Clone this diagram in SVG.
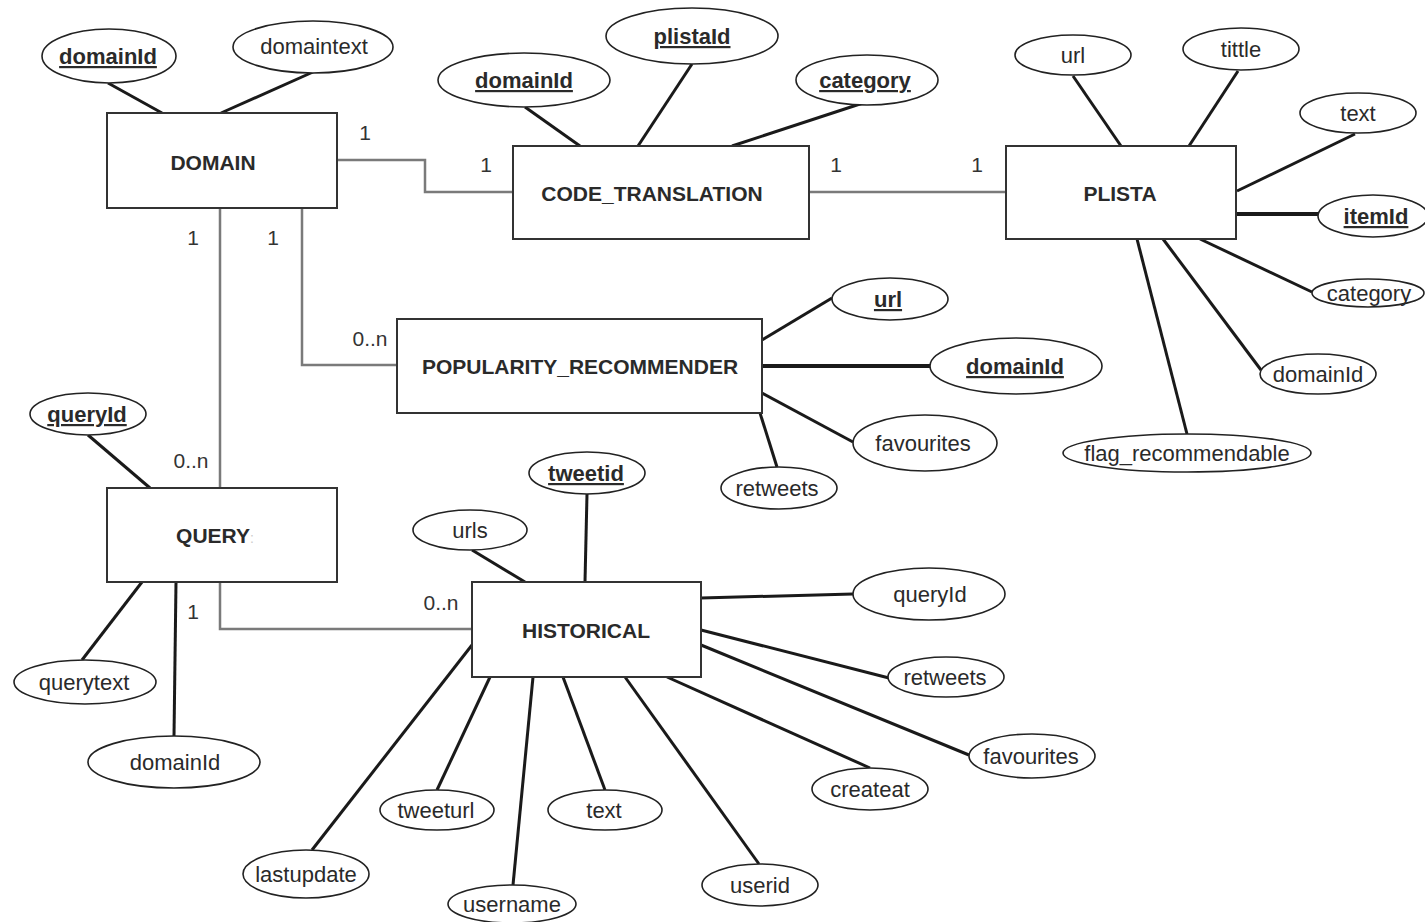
<svg xmlns="http://www.w3.org/2000/svg" width="1425" height="922" viewBox="0 0 1425 922">
<style>
.ent{fill:#fff;stroke:#333;stroke-width:2}
.et{font-family:"Liberation Sans",Arial,sans-serif;font-size:21px;font-weight:bold;fill:#2a2a2a;text-anchor:middle}
.att{fill:#fff;stroke:#222;stroke-width:1.6}
.at{font-family:"Liberation Sans",Arial,sans-serif;font-size:22px;fill:#2a2a2a;text-anchor:middle}
.key{font-weight:bold;text-decoration:underline}
.al{stroke:#1a1a1a;stroke-width:3;fill:none}
.kl{stroke:#1a1a1a;stroke-width:4;fill:none}
.rel{stroke:#7a7a7a;stroke-width:2.5;fill:none}
.card{font-family:"Liberation Sans",Arial,sans-serif;font-size:21px;fill:#333;text-anchor:middle}
</style>
<rect width="1425" height="922" fill="#fff"/>
<g id="connectors">
<path class="rel" d="M337 160 H425 V192 H513"/>
<path class="rel" d="M809 192 H1006"/>
<path class="rel" d="M302 208 V365 H397"/>
<path class="rel" d="M220 208 V488"/>
<path class="rel" d="M220 582 V629 H472"/>
<text class="card" x="365" y="140">1</text>
<text class="card" x="486" y="172">1</text>
<text class="card" x="836" y="172">1</text>
<text class="card" x="977" y="172">1</text>
<text class="card" x="193" y="245">1</text>
<text class="card" x="273" y="245">1</text>
<text class="card" x="370" y="346">0..n</text>
<text class="card" x="191" y="468">0..n</text>
<text class="card" x="193" y="619">1</text>
<text class="card" x="441" y="610">0..n</text>
<line class="al" x1="108" y1="83" x2="162" y2="113"/>
<line class="al" x1="313" y1="72" x2="221" y2="113"/>
<line class="al" x1="525" y1="107" x2="580" y2="146"/>
<line class="al" x1="692" y1="64" x2="638" y2="146"/>
<line class="al" x1="863" y1="103" x2="732" y2="146"/>
<line class="al" x1="1073" y1="76" x2="1121" y2="146"/>
<line class="al" x1="1238" y1="71" x2="1189" y2="146"/>
<line class="al" x1="1355" y1="134" x2="1237" y2="191"/>
<line class="kl" x1="1236" y1="214" x2="1318" y2="214"/>
<line class="al" x1="1200" y1="239" x2="1312" y2="292"/>
<line class="al" x1="1163" y1="239" x2="1261" y2="370"/>
<line class="al" x1="1137" y1="239" x2="1187" y2="434"/>
<line class="al" x1="762" y1="340" x2="832" y2="298"/>
<line class="kl" x1="762" y1="366" x2="930" y2="366"/>
<line class="al" x1="762" y1="393" x2="853" y2="442"/>
<line class="al" x1="760" y1="413" x2="777" y2="467"/>
<line class="al" x1="88" y1="435" x2="150" y2="488"/>
<line class="al" x1="142" y1="582" x2="82" y2="660"/>
<line class="al" x1="176" y1="582" x2="174" y2="736"/>
<line class="al" x1="587" y1="494" x2="585" y2="582"/>
<line class="al" x1="472" y1="550" x2="525" y2="582"/>
<line class="al" x1="701" y1="598" x2="853" y2="594"/>
<line class="al" x1="701" y1="630" x2="889" y2="678"/>
<line class="al" x1="701" y1="645" x2="969" y2="755"/>
<line class="al" x1="667" y1="677" x2="870" y2="768"/>
<line class="al" x1="625" y1="677" x2="759" y2="864"/>
<line class="al" x1="563" y1="677" x2="605" y2="790"/>
<line class="al" x1="533" y1="677" x2="513" y2="885"/>
<line class="al" x1="490" y1="677" x2="437" y2="790"/>
<line class="al" x1="472" y1="645" x2="312" y2="850"/>
</g>
<g id="DOMAIN">
<rect class="ent" x="107" y="113" width="230" height="95"/>
<text class="et" x="213" y="170">DOMAIN</text>
</g>
<g id="DOMAIN_domainId"><ellipse class="att" cx="109" cy="56" rx="67" ry="27"/><text class="at key" x="108" y="64">domainId</text></g>
<g id="DOMAIN_domaintext"><ellipse class="att" cx="313" cy="47" rx="80" ry="26"/><text class="at" x="314" y="54">domaintext</text></g>
<g id="CODE_TRANSLATION">
<rect class="ent" x="513" y="146" width="296" height="93"/>
<text class="et" x="652" y="201">CODE_TRANSLATION</text>
</g>
<g id="CT_domainId"><ellipse class="att" cx="524" cy="80" rx="86" ry="27"/><text class="at key" x="524" y="88">domainId</text></g>
<g id="CT_plistaId"><ellipse class="att" cx="692" cy="36" rx="86" ry="28"/><text class="at key" x="692" y="44">plistaId</text></g>
<g id="CT_category"><ellipse class="att" cx="867" cy="80" rx="71" ry="25"/><text class="at key" x="865" y="88">category</text></g>
<g id="PLISTA">
<rect class="ent" x="1006" y="146" width="230" height="93"/>
<text class="et" x="1120" y="201">PLISTA</text>
</g>
<g id="PLISTA_url"><ellipse class="att" cx="1073" cy="55" rx="58" ry="20"/><text class="at" x="1073" y="63">url</text></g>
<g id="PLISTA_tittle"><ellipse class="att" cx="1241" cy="49" rx="58" ry="21"/><text class="at" x="1241" y="57">tittle</text></g>
<g id="PLISTA_text"><ellipse class="att" cx="1358" cy="113" rx="58" ry="20"/><text class="at" x="1358" y="121">text</text></g>
<g id="PLISTA_itemId"><ellipse class="att" cx="1373" cy="216" rx="55" ry="21"/><text class="at key" x="1376" y="224">itemId</text></g>
<g id="PLISTA_category"><ellipse class="att" cx="1368" cy="293" rx="56" ry="14"/><text class="at" x="1369" y="301">category</text></g>
<g id="PLISTA_domainId"><ellipse class="att" cx="1318" cy="374" rx="58" ry="20"/><text class="at" x="1318" y="382">domainId</text></g>
<g id="PLISTA_flag"><ellipse class="att" cx="1187" cy="453" rx="124" ry="19"/><text class="at" x="1187" y="461">flag_recommendable</text></g>
<g id="POPULARITY_RECOMMENDER">
<rect class="ent" x="397" y="319" width="365" height="94"/>
<text class="et" x="580" y="374">POPULARITY_RECOMMENDER</text>
</g>
<g id="POP_url"><ellipse class="att" cx="890" cy="299" rx="58" ry="21"/><text class="at key" x="888" y="307">url</text></g>
<g id="POP_domainId"><ellipse class="att" cx="1016" cy="366" rx="86" ry="28"/><text class="at key" x="1015" y="374">domainId</text></g>
<g id="POP_favourites"><ellipse class="att" cx="925" cy="443" rx="72" ry="28"/><text class="at" x="923" y="451">favourites</text></g>
<g id="POP_retweets"><ellipse class="att" cx="779" cy="488" rx="58" ry="21"/><text class="at" x="777" y="496">retweets</text></g>
<g id="QUERY">
<rect class="ent" x="107" y="488" width="230" height="94"/>
<text class="et" x="215" y="543">QUERY<tspan fill="#ccc" font-weight="normal" font-size="14">:</tspan></text>
</g>
<g id="QUERY_queryId"><ellipse class="att" cx="88" cy="414" rx="58" ry="21"/><text class="at key" x="87" y="422">queryId</text></g>
<g id="QUERY_querytext"><ellipse class="att" cx="85" cy="682" rx="71" ry="22"/><text class="at" x="84" y="690">querytext</text></g>
<g id="QUERY_domainId"><ellipse class="att" cx="174" cy="762" rx="86" ry="26"/><text class="at" x="175" y="770">domainId</text></g>
<g id="HISTORICAL">
<rect class="ent" x="472" y="582" width="229" height="95"/>
<text class="et" x="586" y="638">HISTORICAL</text>
</g>
<g id="HIST_tweetid"><ellipse class="att" cx="587" cy="473" rx="58" ry="21"/><text class="at key" x="586" y="481">tweetid</text></g>
<g id="HIST_urls"><ellipse class="att" cx="470" cy="530" rx="57" ry="20"/><text class="at" x="470" y="538">urls</text></g>
<g id="HIST_queryId"><ellipse class="att" cx="929" cy="594" rx="76" ry="26"/><text class="at" x="930" y="602">queryId</text></g>
<g id="HIST_retweets"><ellipse class="att" cx="946" cy="677" rx="58" ry="20"/><text class="at" x="945" y="685">retweets</text></g>
<g id="HIST_favourites"><ellipse class="att" cx="1032" cy="756" rx="63" ry="22"/><text class="at" x="1031" y="764">favourites</text></g>
<g id="HIST_createat"><ellipse class="att" cx="870" cy="789" rx="58" ry="21"/><text class="at" x="870" y="797">createat</text></g>
<g id="HIST_userid"><ellipse class="att" cx="760" cy="885" rx="58" ry="21"/><text class="at" x="760" y="893">userid</text></g>
<g id="HIST_text"><ellipse class="att" cx="605" cy="810" rx="57" ry="20"/><text class="at" x="604" y="818">text</text></g>
<g id="HIST_username"><ellipse class="att" cx="512" cy="904" rx="64" ry="19"/><text class="at" x="512" y="912">username</text></g>
<g id="HIST_tweeturl"><ellipse class="att" cx="437" cy="810" rx="57" ry="20"/><text class="at" x="436" y="818">tweeturl</text></g>
<g id="HIST_lastupdate"><ellipse class="att" cx="306" cy="874" rx="63" ry="24"/><text class="at" x="306" y="882">lastupdate</text></g>
</svg>
